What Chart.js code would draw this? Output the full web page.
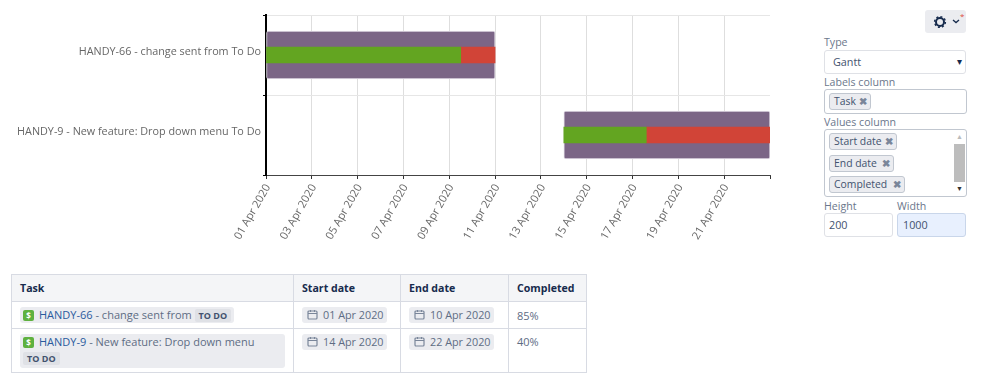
<!DOCTYPE html>
<html>
<head>
<meta charset="utf-8">
<title>Gantt</title>
<script src="https://cdn.jsdelivr.net/npm/chart.js@4/dist/chart.umd.min.js"></script>
<style>
    html, body { margin: 0; padding: 0; background: #fff; width: 999px; height: 381px; overflow: hidden; }
    body { font-family: "Open Sans", sans-serif; color: #42526e; position: relative; }
    #chart-box { position: absolute; left: 0; top: 0; width: 800px; height: 262px; }

    /* painel de configuração */
    .abs { position: absolute; box-sizing: border-box; }
    .lbl { font-size: 10.6px; line-height: 16px; color: #6b778c; }
    .field { border: 1px solid #dfe1e6; border-radius: 3px; background: #fff; font-size: 10.8px; line-height: 22px; padding-left: 8px; color: #42526e; }
    .multi { border: 1px solid #c1c7d0; border-radius: 3px; background: #fff; }
    .chip { background: #ebecf0; border: 1px solid #c1c7d0; border-radius: 3px; font-size: 10.4px; line-height: 15px; height: 17px; padding-left: 4px; color: #42526e; white-space: nowrap; }
    .chip b { position: absolute; right: 3px; top: 0; color: #7a869a; font-size: 10px; }

    /* tabela */
    table { position: absolute; left: 11px; top: 274px; width: 575px; border-collapse: collapse; table-layout: fixed; font-size: 11px; color: #5e6c84; }
    th, td { border: 1px solid #d8dbe3; padding: 0 8px; text-align: left; box-sizing: border-box; }
    th { background: #f4f5f7; color: #172b4d; height: 27px; font-size: 10.6px; font-weight: 700; }
    tr.r1 td { height: 27px; }
    tr.r2 td { height: 44px; vertical-align: top; padding-top: 5px; }
    .task-chip { display: inline-block; background: #ebecf0; border-radius: 3px; padding: 0 3px; line-height: 16px; white-space: nowrap; }
    .bug { display: inline-block; width: 11px; height: 11px; background: #5fb13f; color: #fff; border-radius: 2px; font-size: 8px; line-height: 11px; text-align: center; font-weight: 700; vertical-align: 0; margin-right: 5px; }
    .link { color: #2a5b9e; }
    .loz { display: inline-block; background: #dfe1e6; border-radius: 2px; font-size: 9px; font-weight: 700; line-height: 13px; padding: 0 4px; color: #42526e; }
    .date-chip { display: inline-block; background: #ebecf0; border-radius: 3px; padding: 0 3px 0 5px; font-size: 10.8px; line-height: 16px; color: #5e6c84; white-space: nowrap; }
    .date-chip svg { vertical-align: -1px; margin-right: 5px; }
</style>
</head>
<body>
<div id="chart-box"><canvas id="gantt-chart"></canvas></div>

<div class="abs" style="left:925px;top:10px;width:41px;height:23px;background:#ebecf0;border-radius:3px">
    <svg width="41" height="23" viewBox="0 0 41 23">
        <circle cx="15" cy="12" r="4" fill="none" stroke="#172b4d" stroke-width="2"/>
        <circle cx="15" cy="12" r="5.4" fill="none" stroke="#172b4d" stroke-width="1.4" stroke-dasharray="2 2.2"/>
        <path d="M28 10l3 2.6 3-2.6" fill="none" stroke="#172b4d" stroke-width="1.3"/>
        <text x="35" y="9" font-size="8" fill="#de4b3a" font-family="Open Sans">*</text>
    </svg>
</div>

<div class="abs lbl" style="left:824px;top:34px">Type</div>
<div class="abs field" style="left:824px;top:50px;width:142px;height:24px">Gantt<span style="position:absolute;right:3px;top:-1px;font-size:10px;color:#172b4d">▾</span></div>
<div class="abs lbl" style="left:824px;top:74px">Labels column</div>
<div class="abs multi" style="left:824px;top:89px;width:143px;height:25px"></div>
<div class="abs chip" style="left:829px;top:93px;width:42px">Task<b>✖</b></div>
<div class="abs lbl" style="left:824px;top:114px">Values column</div>
<div class="abs multi" style="left:824px;top:129px;width:143px;height:68px"></div>
<div class="abs chip" style="left:829px;top:133px;width:68px">Start date<b>✖</b></div>
<div class="abs chip" style="left:829px;top:155px;width:65px">End date<b>✖</b></div>
<div class="abs chip" style="left:829px;top:176px;width:76px">Completed<b>✖</b></div>
<div class="abs" style="left:954px;top:144px;width:11px;height:38px;background:#bdbdbd"></div>
<div class="abs" style="left:956px;top:131px;font-size:7px;line-height:12px;color:#bbb">▲</div>
<div class="abs" style="left:956px;top:183px;font-size:7px;line-height:12px;color:#333">▼</div>
<div class="abs lbl" style="left:824px;top:198px">Height</div>
<div class="abs lbl" style="left:897px;top:198px">Width</div>
<div class="abs field" style="left:824px;top:213px;width:69px;height:24px;padding-left:4px">200</div>
<div class="abs field" style="left:897px;top:213px;width:69px;height:24px;padding-left:5px;background:#e8f0fe;border-color:#c9d6ea">1000</div>

<table id="task-table">
    <colgroup><col style="width:282px"><col style="width:107px"><col style="width:108px"><col style="width:78px"></colgroup>
</table>

<script>
const issueKeys = ['HANDY-66', 'HANDY-9'];
const issueTitles = ['change sent from', 'New feature: Drop down menu'];
const statusLabels = ['To Do', 'To Do'];
const startDates = ['2020-04-01', '2020-04-14'];
const endDates = ['2020-04-10', '2020-04-22'];
const completed = [85, 40];
const monthNames = ['Jan', 'Feb', 'Mar', 'Apr', 'May', 'Jun', 'Jul', 'Aug', 'Sep', 'Oct', 'Nov', 'Dec'];

const DAY = 86400000;
const axisStart = Date.parse('2020-04-01');
const axisDays = 22;

// Dias desde o início do eixo; o eixo é linear porque não há adaptador de datas
function toDay(iso) {
    return (Date.parse(iso) - axisStart) / DAY;
}

function formatDate(ms) {
    const d = new Date(ms);
    return String(d.getUTCDate()).padStart(2, '0') + ' ' + monthNames[d.getUTCMonth()] + ' ' + d.getUTCFullYear();
}

const taskLabels = issueKeys.map((key, i) => `${key} - ${issueTitles[i]} ${statusLabels[i]}`);
// A data final é inclusiva: a barra vai até o fim do dia
const spans = startDates.map((start, i) => [toDay(start), toDay(endDates[i]) + 1]);
const doneSpans = spans.map((s, i) => [s[0], s[0] + (s[1] - s[0]) * completed[i] / 100]);
const leftSpans = spans.map((s, i) => [doneSpans[i][1], s[1]]);

function createGanttChart() {
    const ctx = document.getElementById('gantt-chart');
    new Chart(ctx, {
        type: 'bar',
        data: {
            labels: taskLabels,
            datasets: [
                { label: 'Done', data: doneSpans, backgroundColor: '#63a521', barThickness: 16, order: 1 },
                { label: 'Remaining', data: leftSpans, backgroundColor: '#d14437', barThickness: 16, order: 1 },
                { label: 'Duration', data: spans, backgroundColor: '#7b6586', borderColor: '#e4dfe8', borderWidth: 1, borderRadius: 2, borderSkipped: false, barThickness: 48, order: 2 }
            ]
        },
        options: {
            indexAxis: 'y',
            responsive: true,
            maintainAspectRatio: false,
            animation: false,
            layout: { padding: { top: 15, right: 30, left: 0, bottom: 0 } },
            plugins: { legend: { display: false } },
            datasets: { bar: { grouped: false } },
            scales: {
                x: {
                    type: 'linear',
                    min: 0,
                    max: axisDays,
                    afterFit: function(scale) { scale.height = 87; },
                    border: { color: '#444', width: 1 },
                    grid: {
                        color: c => c.tick && c.tick.value === axisDays ? 'transparent' : '#dedede',
                        tickColor: '#333',
                        tickLength: 4
                    },
                    ticks: {
                        stepSize: 2,
                        autoSkip: false,
                        minRotation: 60,
                        maxRotation: 60,
                        padding: 3,
                        labelOffset: 2,
                        color: '#666',
                        font: { family: 'Open Sans', size: 11 },
                        callback: function(value) {
                            return value === axisDays ? '' : formatDate(axisStart + value * DAY);
                        }
                    }
                },
                y: {
                    afterFit: function(scale) { scale.width = 266; },
                    border: { color: '#000', width: 2 },
                    grid: { color: '#e6e6e6', tickColor: '#000', tickLength: 3 },
                    ticks: {
                        padding: 2,
                        labelOffset: -3,
                        color: '#666',
                        font: { family: 'Open Sans', size: 10.8 }
                    }
                }
            }
        }
    });
}

function calendarIcon() {
    return '<svg width="11" height="11" viewBox="0 0 11 11"><rect x="1" y="2" width="9" height="8" rx="1" fill="none" stroke="#7a869a" stroke-width="1.2"/><path d="M1 4.5h9M3.5 1v2M7.5 1v2" stroke="#7a869a" stroke-width="1.1"/></svg>';
}

function dateChip(iso) {
    return `<span class="date-chip">${calendarIcon()}${formatDate(Date.parse(iso))}</span>`;
}

// Monta a tabela de tarefas abaixo do gráfico
function fillTaskTable() {
    let html = '<tr><th>Task</th><th>Start date</th><th>End date</th><th>Completed</th></tr>';
    issueKeys.forEach((key, i) => {
        const wide = i === 1;
        const chipStyle = wide ? 'display:block;padding-bottom:2px' : '';
        const status = statusLabels[i].toUpperCase();
        html += `<tr class="r${i + 1}">
            <td><span class="task-chip" style="${chipStyle}"><span class="bug">$</span><span class="link">${key}</span> - ${issueTitles[i]} ${wide ? '<br>' : ''}<span class="loz">${status}</span></span></td>
            <td>${dateChip(startDates[i])}</td>
            <td>${dateChip(endDates[i])}</td>
            <td>${completed[i]}%</td>
        </tr>`;
    });
    document.getElementById('task-table').insertAdjacentHTML('beforeend', html);
}

createGanttChart();
fillTaskTable();
</script>
</body>
</html>
